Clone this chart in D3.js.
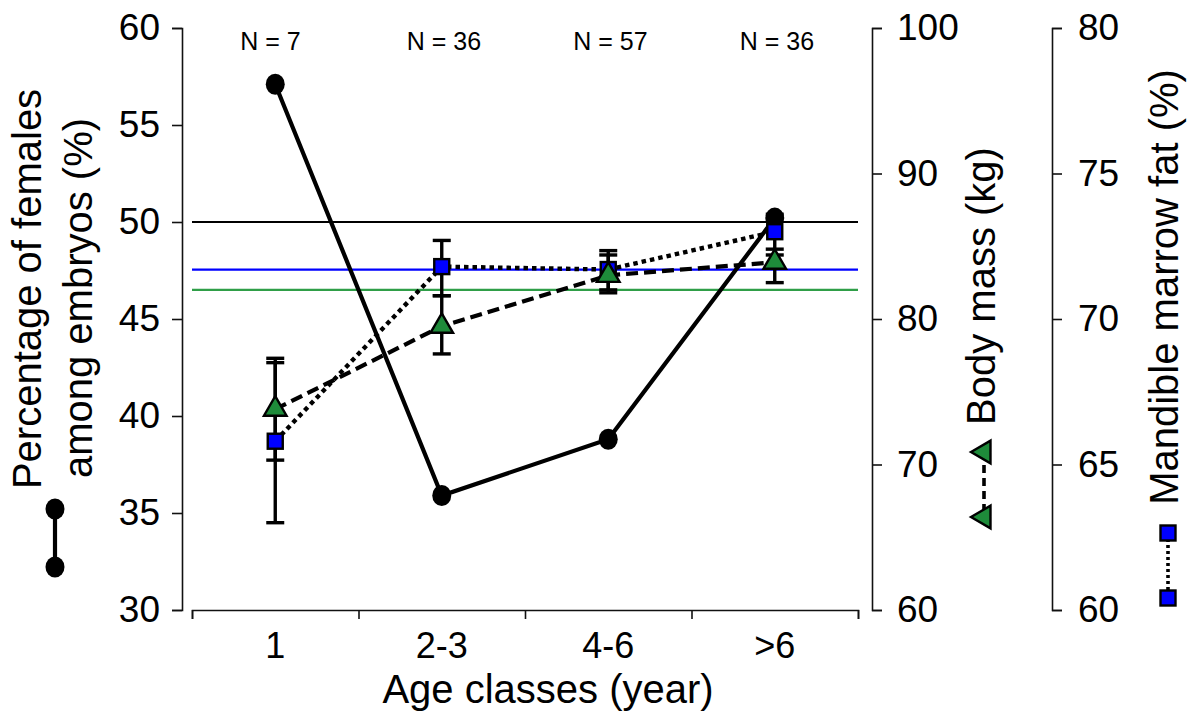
<!DOCTYPE html>
<html>
<head>
<meta charset="utf-8">
<script src="https://cdn.jsdelivr.net/npm/d3@7"></script>
<style>
  body { margin: 0; background: #fff; }
  svg { display: block; font-family: "Liberation Sans", Arial, sans-serif; }
  .axis path, .axis line { stroke: #111; stroke-width: 1.6; }
</style>
</head>
<body>
<div id="chart"></div>
<script>
// data
var ageClasses = ["1", "2-3", "4-6", ">6"];
var sampleN = [7, 36, 57, 36];

var femalePct = [57.1, 35.9, 38.8, 50.2];

var bodyMass = [73.8, 79.5, 83.0, 83.9];
var bodyMassLow = [70.3, 77.6, 81.8, 82.5];
var bodyMassHigh = [77.3, 81.6, 84.4, 84.4];

var marrowFat = [65.8, 71.8, 71.7, 73.0];
var marrowFatLow = [63.0, 70.8, 71.0, 72.4];
var marrowFatHigh = [68.5, 72.7, 72.35, 73.6];

// reference lines
var femaleRef = 50;
var bodyMassRef = 82.0;
var marrowFatRef = 71.7;

var leftTicks = [30, 35, 40, 45, 50, 55, 60];
var bodyTicks = [60, 70, 80, 90, 100];
var fatTicks = [60, 65, 70, 75, 80];

var svgWidth = 1194, svgHeight = 716;
var plot = { left: 192, right: 858, top: 28, bottom: 610 };
var green = "#1e8b3a";
var blue = "#0000ff";

var svg = d3.select("#chart").append("svg")
    .attr("width", svgWidth)
    .attr("height", svgHeight);

// scales
var x = d3.scaleBand().domain(ageClasses).range([plot.left, plot.right]).padding(0);
var xEdge = d3.scaleLinear().domain([0, ageClasses.length]).range([plot.left, plot.right]);
var yLeft = d3.scaleLinear().domain([30, 60]).range([plot.bottom, plot.top]);
var yBody = d3.scaleLinear().domain([60, 100]).range([plot.bottom, plot.top]);
var yFat = d3.scaleLinear().domain([60, 80]).range([plot.bottom, plot.top]);

function cx(i) { return x(ageClasses[i]) + x.bandwidth() / 2; }

// axes
var leftAxis = svg.append("g").attr("class", "axis")
    .attr("transform", "translate(182,0)")
    .call(d3.axisLeft(yLeft).tickValues(leftTicks).tickSize(10).tickPadding(12));

var bodyAxis = svg.append("g").attr("class", "axis")
    .attr("transform", "translate(872,0)")
    .call(d3.axisRight(yBody).tickValues(bodyTicks).tickSize(10).tickPadding(15));

var fatAxis = svg.append("g").attr("class", "axis")
    .attr("transform", "translate(1052,0)")
    .call(d3.axisRight(yFat).tickValues(fatTicks).tickSize(10).tickPadding(16));

[leftAxis, bodyAxis, fatAxis].forEach(function (g) {
    g.selectAll("text").attr("font-size", 37).attr("fill", "#000")
        .attr("font-family", "Liberation Sans, Arial, sans-serif");
});

// x axis: ticks sit on the class boundaries
svg.append("g").attr("class", "axis")
    .attr("transform", "translate(0," + plot.bottom + ")")
    .call(d3.axisBottom(xEdge).tickValues(d3.range(ageClasses.length + 1))
        .tickFormat("").tickSize(9).tickSizeOuter(9));

var xLabels = svg.append("g")
    .attr("transform", "translate(0," + plot.bottom + ")")
    .call(d3.axisBottom(x).tickSize(0).tickPadding(22));
xLabels.select(".domain").remove();
xLabels.selectAll("text").attr("font-size", 36).attr("fill", "#000")
    .attr("font-family", "Liberation Sans, Arial, sans-serif");

// axis titles
svg.append("text")
    .attr("x", 548).attr("y", 703)
    .attr("text-anchor", "middle")
    .attr("font-size", 40)
    .text("Age classes (year)");

svg.append("text")
    .attr("transform", "translate(41,289) rotate(-90)")
    .attr("text-anchor", "middle")
    .attr("font-size", 40)
    .text("Percentage of females");

svg.append("text")
    .attr("transform", "translate(92,298) rotate(-90)")
    .attr("text-anchor", "middle")
    .attr("font-size", 40)
    .text("among embryos (%)");

svg.append("text")
    .attr("transform", "translate(995,286) rotate(-90)")
    .attr("text-anchor", "middle")
    .attr("font-size", 40)
    .text("Body mass (kg)");

svg.append("text")
    .attr("transform", "translate(1178,287) rotate(-90)")
    .attr("text-anchor", "middle")
    .attr("font-size", 40)
    .text("Mandible marrow fat (%)");

// N labels
svg.selectAll(".nlab")
    .data(sampleN)
    .enter()
    .append("text")
    .attr("class", "nlab")
    .attr("x", function (d, i) { return cx(i) - 35; })
    .attr("y", 50)
    .attr("font-size", 25)
    .text(function (d) { return "N = " + d; });

// reference lines
function refLine(yv, color) {
    svg.append("line")
        .attr("x1", plot.left).attr("x2", plot.right)
        .attr("y1", yv).attr("y2", yv)
        .attr("stroke", color)
        .attr("stroke-width", 2.2);
}
refLine(yLeft(femaleRef), "#000");
refLine(yFat(marrowFatRef), blue);
refLine(yBody(bodyMassRef), "#2f9e48");

// error bars
function errorBars(lo, hi, scale) {
    var g = svg.append("g").attr("stroke", "#000").attr("stroke-width", 3.4);
    lo.forEach(function (v, i) {
        var xi = cx(i);
        g.append("line").attr("x1", xi).attr("x2", xi)
            .attr("y1", scale(v)).attr("y2", scale(hi[i]));
        g.append("line").attr("x1", xi - 9).attr("x2", xi + 9)
            .attr("y1", scale(v)).attr("y2", scale(v));
        g.append("line").attr("x1", xi - 9).attr("x2", xi + 9)
            .attr("y1", scale(hi[i])).attr("y2", scale(hi[i]));
    });
}
errorBars(marrowFatLow, marrowFatHigh, yFat);
errorBars(bodyMassLow, bodyMassHigh, yBody);

// series lines
function seriesLine(values, scale, dash, width) {
    var line = d3.line()
        .x(function (d, i) { return cx(i); })
        .y(function (d) { return scale(d); });
    svg.append("path")
        .datum(values)
        .attr("d", line)
        .attr("fill", "none")
        .attr("stroke", "#000")
        .attr("stroke-width", width)
        .attr("stroke-dasharray", dash);
}
seriesLine(femalePct, yLeft, null, 4.2);
seriesLine(marrowFat, yFat, "4.5,4", 4.4);
seriesLine(bodyMass, yBody, "12,6", 4.2);

// markers
var triPath = "M0,-13L11.3,6.5L-11.3,6.5Z";

svg.selectAll(".dot")
    .data(femalePct)
    .enter()
    .append("ellipse")
    .attr("class", "dot")
    .attr("cx", function (d, i) { return cx(i); })
    .attr("cy", function (d) { return yLeft(d); })
    .attr("rx", 9.5).attr("ry", 10.5)
    .attr("fill", "#000");

svg.selectAll(".sq")
    .data(marrowFat)
    .enter()
    .append("rect")
    .attr("class", "sq")
    .attr("x", function (d, i) { return cx(i) - 7.5; })
    .attr("y", function (d) { return yFat(d) - 7.5; })
    .attr("width", 15).attr("height", 15)
    .attr("fill", blue)
    .attr("stroke", "#000")
    .attr("stroke-width", 2.4);

svg.selectAll(".tri")
    .data(bodyMass)
    .enter()
    .append("path")
    .attr("class", "tri")
    .attr("d", triPath)
    .attr("transform", function (d, i) { return "translate(" + cx(i) + "," + yBody(d) + ")"; })
    .attr("fill", green)
    .attr("stroke", "#000")
    .attr("stroke-width", 2.4);

// legend keys next to the axis titles
var keyLeft = svg.append("g");
keyLeft.append("line").attr("x1", 55).attr("x2", 55).attr("y1", 509).attr("y2", 567)
    .attr("stroke", "#000").attr("stroke-width", 4.2);
keyLeft.selectAll("ellipse").data([509, 567]).enter().append("ellipse")
    .attr("cx", 55).attr("cy", function (d) { return d; })
    .attr("rx", 9.5).attr("ry", 10.5).attr("fill", "#000");

var keyBody = svg.append("g");
keyBody.append("line").attr("x1", 984).attr("x2", 984).attr("y1", 452).attr("y2", 517)
    .attr("stroke", "#000").attr("stroke-width", 3.6).attr("stroke-dasharray", "8,5");
keyBody.selectAll("path").data([452, 517]).enter().append("path")
    .attr("d", triPath)
    .attr("transform", function (d) { return "translate(984," + d + ") rotate(-90)"; })
    .attr("fill", green).attr("stroke", "#000").attr("stroke-width", 2.4);

var keyFat = svg.append("g");
keyFat.append("line").attr("x1", 1168).attr("x2", 1168).attr("y1", 533).attr("y2", 598)
    .attr("stroke", "#000").attr("stroke-width", 3.6).attr("stroke-dasharray", "3,3");
keyFat.selectAll("rect").data([533, 598]).enter().append("rect")
    .attr("x", 1160.5).attr("y", function (d) { return d - 7.5; })
    .attr("width", 15).attr("height", 15)
    .attr("fill", blue).attr("stroke", "#000").attr("stroke-width", 2.4);
</script>
</body>
</html>
